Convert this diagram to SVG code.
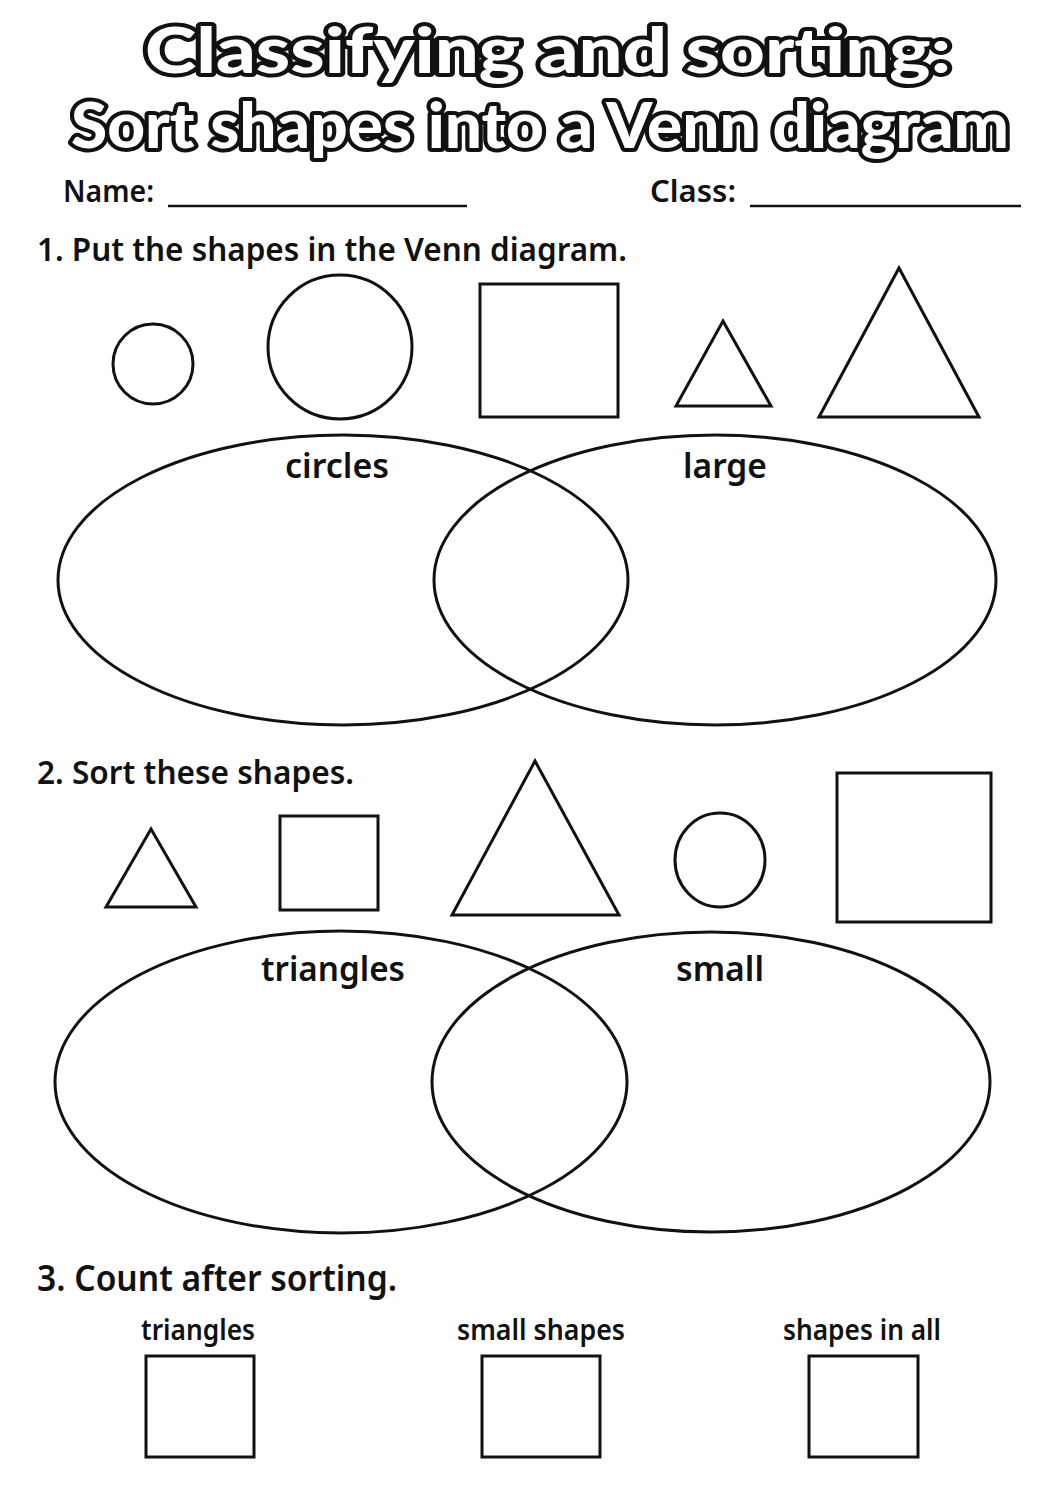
<svg xmlns="http://www.w3.org/2000/svg" width="1055" height="1491" viewBox="0 0 1055 1491">
<style>
.title{font-family:"Lato","Noto Sans",sans-serif;font-weight:900;fill:#fff;stroke:#111;stroke-width:8;stroke-linejoin:round;paint-order:stroke}
.txt{font-family:"Noto Sans","Open Sans",sans-serif;font-weight:600;fill:#111}
.shape{fill:none;stroke:#111;stroke-width:3}
.venn{fill:none;stroke:#111;stroke-width:3}
.line{stroke:#111;stroke-width:2.5}
</style>
<rect width="1055" height="1491" fill="#fff"/>
<g id="title">
<text class="title" x="548" y="73" font-size="62" text-anchor="middle" textLength="806" lengthAdjust="spacingAndGlyphs">Classifying and sorting:</text>
<text class="title" x="540" y="148" font-size="62" text-anchor="middle" textLength="938" lengthAdjust="spacingAndGlyphs">Sort shapes into a Venn diagram</text>
</g>
<g id="name-class">
<text class="txt" x="63" y="202" font-size="30" textLength="91" lengthAdjust="spacingAndGlyphs">Name:</text>
<line class="line" x1="168" y1="206" x2="467" y2="206"/>
<text class="txt" x="650" y="202" font-size="30" textLength="86" lengthAdjust="spacingAndGlyphs">Class:</text>
<line class="line" x1="750" y1="206" x2="1021" y2="206"/>
</g>
<g id="q1">
<text class="txt" x="37" y="261" font-size="33" textLength="590" lengthAdjust="spacingAndGlyphs">1. Put the shapes in the Venn diagram.</text>
</g>
<g id="q1-shapes">
<circle class="shape" cx="153" cy="364" r="40"/>
<circle class="shape" cx="340" cy="347" r="72"/>
<rect class="shape" x="480" y="284" width="138" height="133"/>
<polygon class="shape" points="723,321 771,406 676,406"/>
<polygon class="shape" points="899,268 979,417 819,417"/>
</g>
<g id="venn1">
<ellipse class="venn" cx="343" cy="580" rx="285" ry="145"/>
<ellipse class="venn" cx="715" cy="580" rx="281" ry="145"/>
<text class="txt" x="337" y="478" font-size="35" text-anchor="middle" textLength="104" lengthAdjust="spacingAndGlyphs">circles</text>
<text class="txt" x="725" y="478" font-size="35" text-anchor="middle" textLength="84" lengthAdjust="spacingAndGlyphs">large</text>
</g>
<g id="q2">
<text class="txt" x="37" y="784" font-size="33" textLength="317" lengthAdjust="spacingAndGlyphs">2. Sort these shapes.</text>
</g>
<g id="q2-shapes">
<polygon class="shape" points="151,829 196,907 106,907"/>
<rect class="shape" x="280" y="816" width="98" height="94"/>
<polygon class="shape" points="535,761 619,915 452,915"/>
<ellipse class="shape" cx="720" cy="860" rx="45" ry="47"/>
<rect class="shape" x="837" y="773" width="154" height="149"/>
</g>
<g id="venn2">
<ellipse class="venn" cx="341" cy="1082" rx="286" ry="151"/>
<ellipse class="venn" cx="711" cy="1082" rx="279" ry="150"/>
<text class="txt" x="333" y="981" font-size="35" text-anchor="middle" textLength="144" lengthAdjust="spacingAndGlyphs">triangles</text>
<text class="txt" x="720" y="981" font-size="35" text-anchor="middle" textLength="88" lengthAdjust="spacingAndGlyphs">small</text>
</g>
<g id="q3">
<text class="txt" x="37" y="1291" font-size="36" textLength="360" lengthAdjust="spacingAndGlyphs">3. Count after sorting.</text>
</g>
<g id="count-boxes">
<text class="txt" x="198" y="1340" font-size="28" text-anchor="middle" textLength="114" lengthAdjust="spacingAndGlyphs">triangles</text>
<rect class="shape" x="146" y="1356" width="108" height="101"/>
<text class="txt" x="541" y="1340" font-size="28" text-anchor="middle" textLength="168" lengthAdjust="spacingAndGlyphs">small shapes</text>
<rect class="shape" x="482" y="1356" width="118" height="101"/>
<text class="txt" x="862" y="1340" font-size="28" text-anchor="middle" textLength="158" lengthAdjust="spacingAndGlyphs">shapes in all</text>
<rect class="shape" x="809" y="1356" width="109" height="101"/>
</g>
</svg>
